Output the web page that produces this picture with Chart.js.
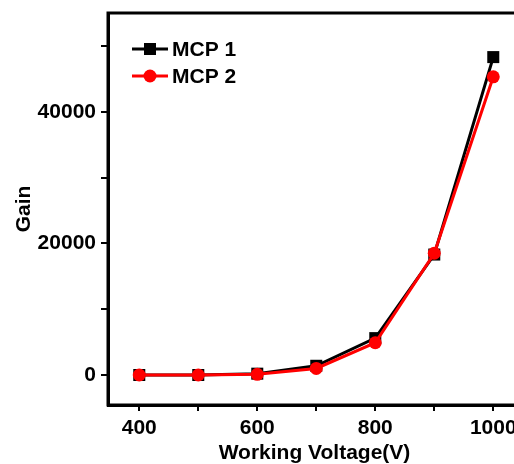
<!DOCTYPE html>
<html>
<head>
<meta charset="utf-8">
<script src="https://cdn.jsdelivr.net/npm/chart.js@4"></script>
<style>
    body { margin: 0; overflow: hidden; background: #fff; }
</style>
</head>
<body>
<canvas id="myChart" width="530" height="464"></canvas>
<script>
// données
const tensions = [400, 500, 600, 700, 800, 900, 1000];
const gainMcp1 = [0, 0, 200, 1400, 5600, 18300, 48300];
const gainMcp2 = [0, 0, 100, 1000, 4900, 18500, 45300];
const xTicks = [400, 500, 600, 700, 800, 900, 1000];
const xLabels = [400, 600, 800, 1000];
const yTicks = [0, 10000, 20000, 30000, 40000, 50000];
const yLabels = [0, 20000, 40000];

var canvas = document.getElementById("myChart");
var ctx = canvas.getContext('2d');
const police = "'Liberation Sans', Arial, sans-serif";

/**
 * mise en forme des points pour le graphique
 * @param {array} x
 * @param {array} y
 * @returns {array}
 */
function mef(x, y) {
    const li = [];
    for (let i = 0; i < x.length; i++) {
        li.push({x: x[i], y: y[i]});
    }
    return li;
}

/**
 * cadre autour de la zone du graphique + légende (trait + marqueur)
 */
const cadre = {
    id: 'cadre',
    afterDraw(chart) {
        const a = chart.chartArea;
        const c = chart.ctx;
        c.save();
        c.strokeStyle = '#000';
        c.lineWidth = 3;
        c.strokeRect(a.left, a.top, a.right - a.left, a.bottom - a.top);

        // légende
        const lignes = [49, 76];
        chart.data.datasets.forEach(function (ds, i) {
            const y = lignes[i];
            c.strokeStyle = ds.borderColor;
            c.lineWidth = 3;
            c.beginPath();
            c.moveTo(132, y);
            c.lineTo(168, y);
            c.stroke();
            c.fillStyle = ds.backgroundColor;
            if (ds.pointStyle === 'rect') {
                c.fillRect(144, y - 6, 12, 12);
            } else {
                c.beginPath();
                c.arc(150, y, 6.5, 0, Math.PI * 2);
                c.fill();
            }
            c.fillStyle = '#000';
            c.font = "bold 21px " + police;
            c.textBaseline = 'middle';
            c.textAlign = 'left';
            c.fillText(ds.label, 172, y + 1);
        });
        c.restore();
    }
};

const myChart = new Chart(ctx, {
    type: 'line',
    data: {
        datasets: [{
            label: 'MCP 1',
            data: mef(tensions, gainMcp1),
            borderColor: '#000',
            backgroundColor: '#000',
            borderWidth: 3,
            pointStyle: 'rect',
            pointRadius: 8.5,
            pointBorderWidth: 0,
            order: 2
        }, {
            label: 'MCP 2',
            data: mef(tensions, gainMcp2),
            borderColor: '#ff0000',
            backgroundColor: '#ff0000',
            borderWidth: 3,
            pointStyle: 'circle',
            pointRadius: 6.5,
            pointBorderWidth: 0,
            order: 1
        }]
    },
    options: {
        responsive: false,
        animation: false,
        layout: { padding: { left: 0, top: 13, right: 9, bottom: 0 } },
        plugins: {
            legend: { display: false },
            tooltip: { enabled: false }
        },
        scales: {
            x: {
                type: 'linear',
                min: 347,
                max: 1047,
                afterFit: function (s) { s.height = 59; },
                afterBuildTicks: function (s) { s.ticks = xTicks.map(v => ({value: v})); },
                border: { display: true, color: '#000', width: 3 },
                grid: { display: true, drawOnChartArea: false, drawTicks: true, tickLength: 6, color: '#000', lineWidth: 2 },
                ticks: {
                    color: '#000',
                    padding: 5,
                    maxRotation: 0,
                    autoSkip: false,
                    font: { family: police, size: 21, weight: 'bold' },
                    callback: function (v) { return xLabels.includes(v) ? String(v) : ''; }
                },
                title: {
                    display: true,
                    text: 'Working Voltage(V)',
                    color: '#000',
                    padding: 0,
                    font: { family: police, size: 21, weight: 'bold', lineHeight: 1 }
                }
            },
            y: {
                type: 'linear',
                min: -4560,
                max: 55000,
                // largeur fixe, pas de marge pour les étiquettes en haut/bas
                afterFit: function (s) { s.width = 108; s.paddingTop = 0; s.paddingBottom = 0; },
                afterBuildTicks: function (s) { s.ticks = yTicks.map(v => ({value: v})); },
                border: { display: true, color: '#000', width: 3 },
                grid: { display: true, drawOnChartArea: false, drawTicks: true, tickLength: 7, color: '#000', lineWidth: 2 },
                ticks: {
                    color: '#000',
                    padding: 5,
                    autoSkip: false,
                    font: { family: police, size: 21, weight: 'bold' },
                    callback: function (v) { return yLabels.includes(v) ? String(v) : ''; }
                },
                title: {
                    display: true,
                    text: 'Gain',
                    color: '#000',
                    padding: { top: 14, bottom: 0 },
                    font: { family: police, size: 21, weight: 'bold', lineHeight: 1 }
                }
            }
        }
    },
    plugins: [cadre]
});
</script>
</body>
</html>
